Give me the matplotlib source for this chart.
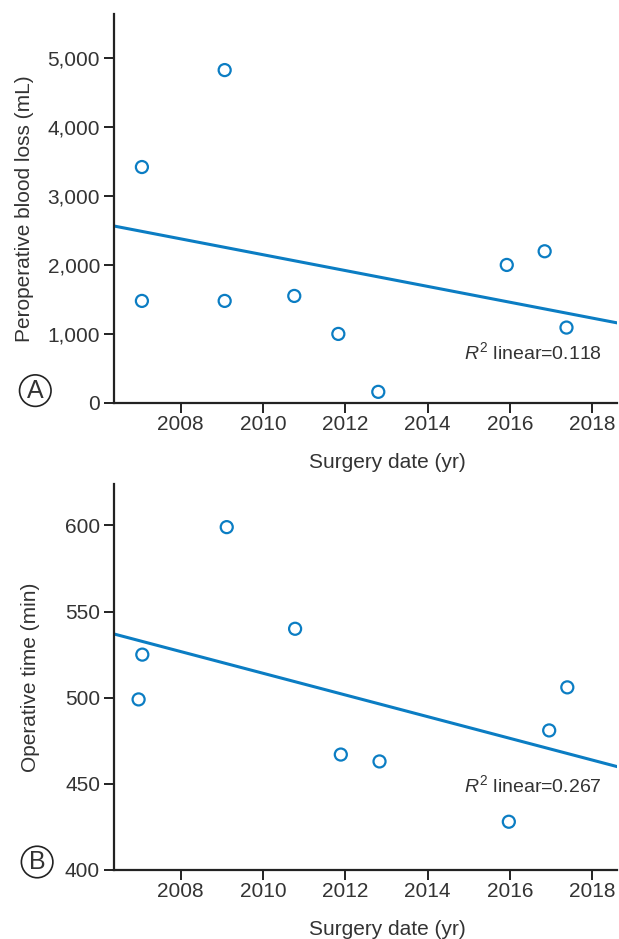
import numpy as np
import matplotlib
matplotlib.use("Agg")
import matplotlib.pyplot as plt
from matplotlib.ticker import FuncFormatter

# ---------- Data ----------
# Panel A: perioperative blood loss
year_a = [2007.06, 2007.06, 2009.07, 2009.07, 2010.76, 2011.83, 2012.80, 2015.92, 2016.84, 2017.37]
blood_loss = [3415, 1476, 4819, 1476, 1548, 998, 159, 1997, 2195, 1090]
fit_a = (2561, 1158)          # fitted line value at left / right edge of x-range
r2_a = "0.118"

# Panel B: operative time
year_b = [2006.98, 2007.07, 2009.12, 2010.78, 2011.89, 2012.83, 2015.97, 2016.95, 2017.39]
op_time = [499, 525, 599, 540, 467, 463, 428, 481, 506]
fit_b = (537, 460)
r2_b = "0.267"

x_range = (2006.38, 2018.6)
x_ticks = [2008, 2010, 2012, 2014, 2016, 2018]

# ---------- Style ----------
FONT = ["Liberation Sans Narrow", "Liberation Sans", "DejaVu Sans"]
plt.rcParams["font.family"] = FONT
plt.rcParams["mathtext.fontset"] = "custom"
plt.rcParams["mathtext.rm"] = "Liberation Sans"
plt.rcParams["mathtext.it"] = "Liberation Sans:italic"
TXT = "#333333"
BLUE = "#0b7dc3"

fig = plt.figure(figsize=(6.19, 9.39), dpi=100)
ax_a = fig.add_axes([0.184, 0.571, 0.813, 0.414])
ax_b = fig.add_axes([0.184, 0.0735, 0.813, 0.411])


def style_axis(ax, ylim, yticks):
    for side in ("top", "right"):
        ax.spines[side].set_visible(False)
    for side in ("left", "bottom"):
        ax.spines[side].set_color("#222222")
        ax.spines[side].set_linewidth(1.6)
    ax.set_xlim(*x_range)
    ax.set_ylim(*ylim)
    ax.set_xticks(x_ticks)
    ax.set_yticks(yticks)
    ax.tick_params(direction="out", length=7, width=1.4, color="#222222",
                   labelsize=15, labelcolor=TXT, pad=3)
    ax.tick_params(axis="x", pad=2)
    ax.set_xlabel("Surgery date (yr)", fontsize=15, color=TXT)
    ax.xaxis.set_label_coords(0.543, -0.13)


# ---------- Panel A ----------
ax = ax_a
ax.scatter(year_a, blood_loss, s=75, facecolors="none", edgecolors=BLUE,
           linewidths=1.6, zorder=3, clip_on=False)
ax.plot(x_range, fit_a, color=BLUE, lw=2.2)
style_axis(ax, (0, 5630), [0, 1000, 2000, 3000, 4000, 5000])
ax.yaxis.set_major_formatter(FuncFormatter(lambda v, p: f"{int(v):,}"))
ax.set_ylabel("Peroperative blood loss (mL)", fontsize=15, color=TXT, labelpad=10)
ax.text(2014.88, 738, r"$R^{2}$ linear=" + r2_a, fontsize=14, color=TXT, va="center")
fig.text(0.057, 0.584, "A", fontsize=18, color=TXT, ha="center", va="center",
         bbox=dict(boxstyle="circle,pad=0.15", fc="white", ec="#222222", lw=1.2))

# ---------- Panel B ----------
ax = ax_b
ax.scatter(year_b, op_time, s=75, facecolors="none", edgecolors=BLUE,
           linewidths=1.6, zorder=3, clip_on=False)
ax.plot(x_range, fit_b, color=BLUE, lw=2.2)
style_axis(ax, (400, 624), [400, 450, 500, 550, 600])
ax.set_ylabel("Operative time (min)", fontsize=15, color=TXT, labelpad=18)
ax.text(2014.88, 449, r"$R^{2}$ linear=" + r2_b, fontsize=14, color=TXT, va="center")
fig.text(0.060, 0.082, "B", fontsize=18, color=TXT, ha="center", va="center",
         bbox=dict(boxstyle="circle,pad=0.15", fc="white", ec="#222222", lw=1.2))

fig.savefig("out.png", dpi=100)
